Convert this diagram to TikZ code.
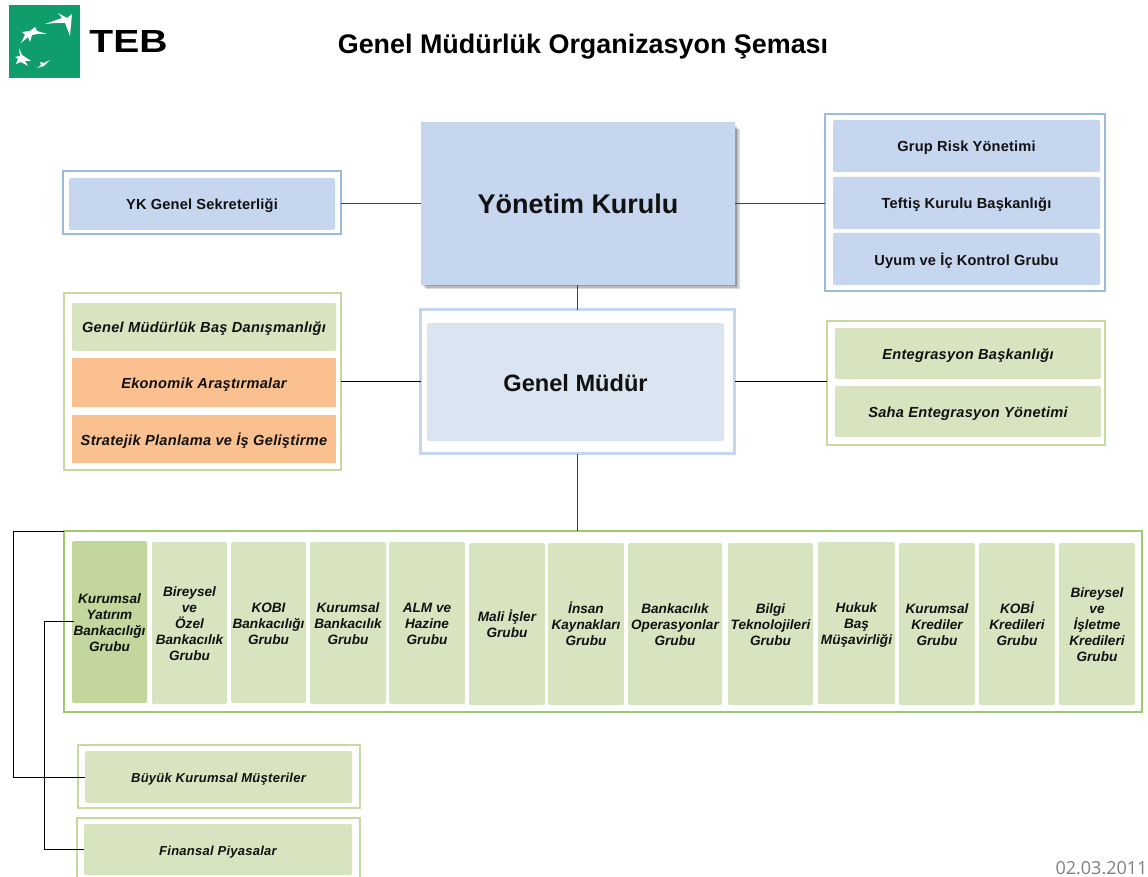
\documentclass[tikz,border=0pt]{standalone}
\usepackage{fontspec}
\setmainfont{Liberation Sans}
\newfontfamily\datefont{Open Sans}
\usetikzlibrary{calc}
\definecolor{bluefill}{HTML}{C6D6EE}
\definecolor{paleblue}{HTML}{DBE4F1}
\definecolor{blueframe}{HTML}{9DBBDF}
\definecolor{palebframe}{HTML}{C6D6EE}
\definecolor{greenfill}{HTML}{D8E3BF}
\definecolor{darkgreen}{HTML}{C3D69B}
\definecolor{greenframe}{HTML}{C6DAA0}
\definecolor{brightframe}{HTML}{9BCB6C}
\definecolor{orangefill}{HTML}{FBC08F}
\definecolor{tebgreen}{HTML}{0F9D6B}
\definecolor{linecol}{HTML}{444444}
\definecolor{txt}{HTML}{111111}
\newcommand{\liftamt}{5pt}
\newcommand{\blueitemfont}{\fontsize{14.6}{16}\selectfont\addfontfeature{LetterSpace=1.2}}
\newcommand{\greenitemfont}{\fontsize{14.6}{16}\selectfont\addfontfeature{LetterSpace=2}}
\newcommand{\loweritemfont}{\fontsize{13}{15}\selectfont\addfontfeature{LetterSpace=2}}
\tikzset{
  x=1pt,y=-1pt,
  boxbase/.style={inner sep=0pt,outer sep=0pt,text=txt},
  frameb/.style={boxbase,draw=blueframe,line width=1.6pt,fill=white},
  frameg/.style={boxbase,draw=greenframe,line width=1.6pt,fill=white},
  blueitem/.style={boxbase,fill=bluefill,rounded corners=2pt,font=\bfseries\blueitemfont},
  greenitem/.style={boxbase,fill=greenfill,rounded corners=2pt,font=\bfseries\itshape\greenitemfont},
  loweritem/.style={boxbase,fill=greenfill,rounded corners=2pt,font=\bfseries\itshape\loweritemfont},
  orangeitem/.style={boxbase,fill=orangefill,font=\bfseries\itshape\greenitemfont},
  colitem/.style={boxbase,fill=greenfill,rounded corners=2pt,font=\fontsize{13.6}{16}\selectfont\bfseries\itshape},
  conn/.style={draw=linecol,line width=1pt},
  softshadow/.style={fill=black,opacity=.15},
}
% text block that sits a little below the centre of its box
\newcommand{\lowtext}[1]{\raisebox{0pt}[\dimexpr\height+\liftamt\relax][\depth]{\begin{tabular}{@{}c@{}}#1\end{tabular}}}
% name, x1, y1, x2, y2, style, text
\newcommand{\pbox}[7]{%
  \node[#6,minimum width={(#4-#2)*1pt},minimum height={(#5-#3)*1pt}] (#1) at ({(#2+#4)/2},{(#3+#5)/2}) {\lowtext{#7}};}
\begin{document}
\begin{tikzpicture}
\useasboundingbox (0,0) rectangle (1148,877);
% logo
\fill[tebgreen] (8.5,5) rectangle (80,78);
\fill[white] (45,24) -- (62,18) -- (58,13) -- (67,18) -- (72,14) -- (70,36) -- (65,23) -- (55,23) -- cycle;
\fill[white] (22,32) -- (30,31) -- (35,27) -- (37,31) -- (47,34) -- (38,34) -- (32,35) -- (30,42) -- (28,37) -- (21,43) -- (25,35) -- cycle;
\fill[white] (19,48) -- (22,55) -- (31,61) -- (25,61) -- (28,66) -- (21,62) -- (16,64) -- (18,59) -- (15,57) -- (20,56) -- cycle;
\fill[white] (50,60) -- (44,63) -- (40,62) -- (41,65) -- (37,68) -- (44,66) -- cycle;
\node[boxbase,text=black,font=\fontsize{32}{32}\selectfont\bfseries] (teb) at (128.5,41) {\scalebox{1.22}[1]{TEB}};
\node[boxbase,text=black,font=\fontsize{26.9}{28}\selectfont\bfseries] (title) at (583,46.5) {Genel Müdürlük Organizasyon Şeması};
% top row
\pbox{ykf}{63}{171}{341}{234}{frameb}{}
\pbox{yk}{69}{178}{335}{230}{blueitem}{YK Genel Sekreterliği}
\foreach \d in {1.5,3,4.5}{\fill[softshadow] (421+\d,125+\d) rectangle (735+\d,285+\d);}
\pbox{yon}{421}{122}{735}{285}{boxbase,fill=bluefill,font=\fontsize{27}{30}\selectfont\bfseries\def\liftamt{9pt}}{Yönetim Kurulu}
\pbox{rtf}{825}{114}{1105}{291}{frameb}{}
\pbox{rt1}{833}{120}{1100}{172}{blueitem}{Grup Risk Yönetimi}
\pbox{rt2}{833}{177}{1100}{229}{blueitem}{Teftiş Kurulu Başkanlığı}
\pbox{rt3}{833}{233}{1100}{285}{blueitem}{Uyum ve İç Kontrol Grubu}
% middle row
\pbox{lmf}{64}{293}{341}{470}{frameg}{}
\pbox{lm1}{72}{303}{336}{351}{greenitem}{Genel Müdürlük Baş Danışmanlığı}
\pbox{lm2}{72}{358}{336}{407}{orangeitem}{Ekonomik Araştırmalar}
\pbox{lm3}{72}{415}{336}{463}{orangeitem}{Stratejik Planlama ve İş Geliştirme}
\pbox{gmf}{420.5}{309.5}{734.5}{453.5}{boxbase,draw=palebframe,line width=3pt,fill=white}{}
\pbox{gm}{427}{323}{724}{441}{boxbase,fill=paleblue,rounded corners=2pt,font=\fontsize{23.6}{26}\selectfont\bfseries\def\liftamt{9pt}}{Genel Müdür}
\pbox{rmf}{827}{321}{1105}{445}{frameg}{}
\pbox{rm1}{835}{328}{1101}{379}{greenitem}{Entegrasyon Başkanlığı}
\pbox{rm2}{835}{386}{1101}{437}{greenitem}{Saha Entegrasyon Yönetimi}
% group row
\pbox{grp}{64}{531}{1142}{712}{boxbase,draw=brightframe,line width=2pt,fill=white}{}
\pbox{c1}{72}{541}{147}{703}{colitem,fill=darkgreen}{Kurumsal\\Yatırım\\Bankacılığı\\Grubu}
\pbox{c2}{152}{542}{227}{704}{colitem}{Bireysel\\ve\\Özel\\Bankacılık\\Grubu}
\pbox{c3}{231}{542}{306}{703}{colitem}{KOBI\\Bankacılığı\\Grubu}
\pbox{c4}{310}{542}{386}{704}{colitem}{Kurumsal\\Bankacılık\\Grubu}
\pbox{c5}{389}{542}{465}{704}{colitem}{ALM ve\\Hazine\\Grubu}
\pbox{c6}{469}{543}{545}{705}{colitem}{Mali İşler\\Grubu}
\pbox{c7}{548}{543}{624}{705}{colitem}{İnsan\\Kaynakları\\Grubu}
\pbox{c8}{628}{543}{722}{705}{colitem}{Bankacılık\\Operasyonlar\\Grubu}
\pbox{c9}{728}{543}{813}{705}{colitem}{Bilgi\\Teknolojileri\\Grubu}
\pbox{c10}{818}{542}{895}{704}{colitem}{Hukuk\\Baş\\Müşavirliği}
\pbox{c11}{899}{543}{975}{705}{colitem}{Kurumsal\\Krediler\\Grubu}
\pbox{c12}{979}{543}{1055}{705}{colitem}{KOBİ\\Kredileri\\Grubu}
\pbox{c13}{1059}{543}{1135}{705}{colitem}{Bireysel\\ve\\İşletme\\Kredileri\\Grubu}
% lower boxes
\pbox{bkf}{78}{745}{360}{808}{frameg}{}
\pbox{bk}{85}{751}{352}{803}{loweritem}{Büyük Kurumsal Müşteriler}
\pbox{fpf}{77}{818}{360}{885}{frameg}{}
\pbox{fp}{84}{824}{352}{875}{loweritem}{Finansal Piyasalar}
\node[boxbase,text=black!50,font=\datefont\fontsize{18}{19}\selectfont] (date) at (1101.5,868) {02.03.2011};
% connectors
\draw[conn] (yk.east -| ykf.east) -- (yk.east -| yon.west);
\draw[conn] (yon.east) -- (yon.east -| rtf.west);
\draw[conn] ([xshift=-1pt]yon.south) -- ([xshift=-1pt]yon.south |- gmf.north);
\draw[conn,draw=black] (lmf.east) -- (lmf.east -| gmf.west);
\draw[conn,draw=black] (gmf.east) -- (gmf.east -| rmf.west);
\draw[conn] (gmf.south) -- (gmf.south |- grp.north);
\draw[conn,draw=black] (grp.north west) -- ++(-51,0) |- (bk.west);
\draw[conn,draw=black] ([xshift=2pt,yshift=1pt]c1.west) -- ++(-30,0) |- (fp.west);
\end{tikzpicture}
\end{document}
